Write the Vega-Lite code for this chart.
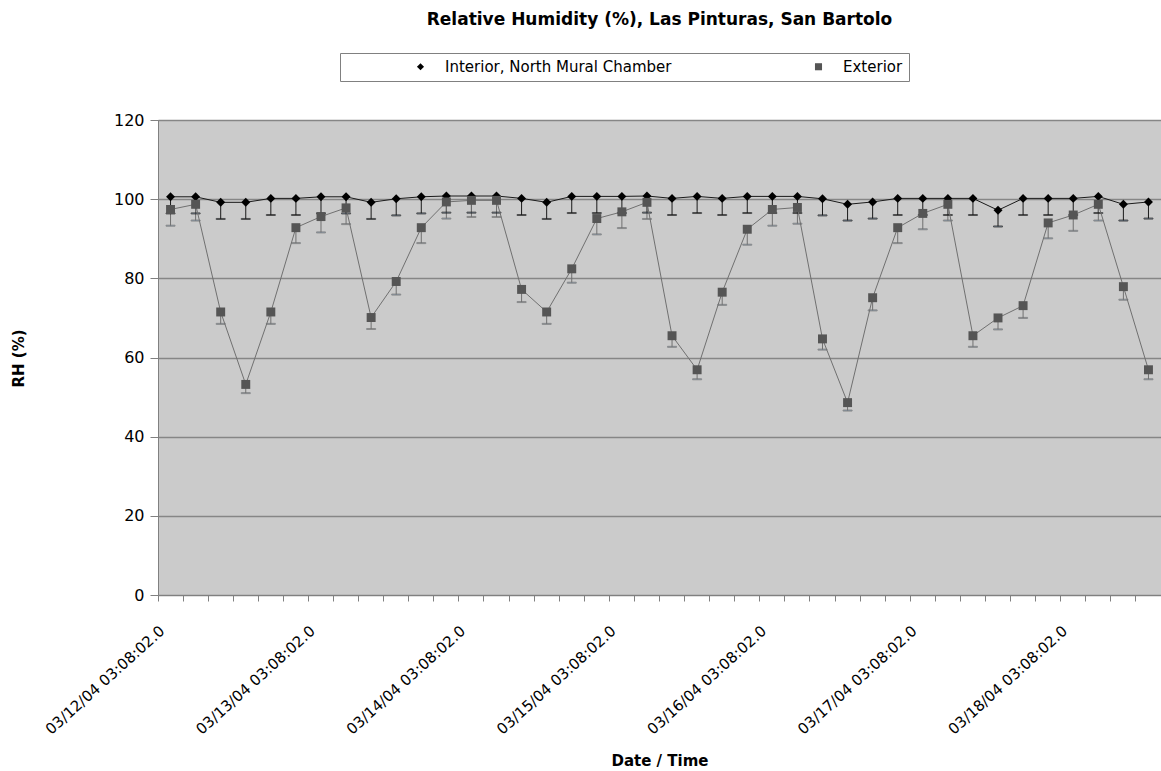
{
  "$schema": "https://vega.github.io/schema/vega-lite/v6.json",
  "width": 1003,
  "height": 475,
  "autosize": "none",
  "padding": {"left": 158, "top": 120, "right": 0, "bottom": 176},
  "background": "white",
  "config": {
    "font": "DejaVu Sans",
    "view": {"fill": "#cbcbcb", "stroke": "#808080", "strokeWidth": 1}
  },
  "title": {
    "text": "Relative Humidity (%), Las Pinturas, San Bartolo",
    "font": "DejaVu Sans",
    "fontSize": 17,
    "fontWeight": "bold",
    "color": "#000000",
    "anchor": "middle",
    "frame": "group",
    "baseline": "alphabetic",
    "offset": 11
  },
  "data": {
    "values": [
      {"t": "03/12/04 03:08:02.0", "s": "Interior, North Mural Chamber", "rh": 100.6, "lo": 96.4},
      {"t": "03/12/04 07:08:02.0", "s": "Interior, North Mural Chamber", "rh": 100.6, "lo": 96.4},
      {"t": "03/12/04 11:08:02.0", "s": "Interior, North Mural Chamber", "rh": 99.2, "lo": 95.0},
      {"t": "03/12/04 15:08:02.0", "s": "Interior, North Mural Chamber", "rh": 99.2, "lo": 95.0},
      {"t": "03/12/04 19:08:02.0", "s": "Interior, North Mural Chamber", "rh": 100.2, "lo": 96.0},
      {"t": "03/12/04 23:08:02.0", "s": "Interior, North Mural Chamber", "rh": 100.2, "lo": 96.0},
      {"t": "03/13/04 03:08:02.0", "s": "Interior, North Mural Chamber", "rh": 100.6, "lo": 96.4},
      {"t": "03/13/04 07:08:02.0", "s": "Interior, North Mural Chamber", "rh": 100.6, "lo": 96.4},
      {"t": "03/13/04 11:08:02.0", "s": "Interior, North Mural Chamber", "rh": 99.2, "lo": 95.0},
      {"t": "03/13/04 15:08:02.0", "s": "Interior, North Mural Chamber", "rh": 100.1, "lo": 95.9},
      {"t": "03/13/04 19:08:02.0", "s": "Interior, North Mural Chamber", "rh": 100.6, "lo": 96.4},
      {"t": "03/13/04 23:08:02.0", "s": "Interior, North Mural Chamber", "rh": 100.8, "lo": 96.6},
      {"t": "03/14/04 03:08:02.0", "s": "Interior, North Mural Chamber", "rh": 100.8, "lo": 96.6},
      {"t": "03/14/04 07:08:02.0", "s": "Interior, North Mural Chamber", "rh": 100.8, "lo": 96.6},
      {"t": "03/14/04 11:08:02.0", "s": "Interior, North Mural Chamber", "rh": 100.2, "lo": 96.0},
      {"t": "03/14/04 15:08:02.0", "s": "Interior, North Mural Chamber", "rh": 99.2, "lo": 95.0},
      {"t": "03/14/04 19:08:02.0", "s": "Interior, North Mural Chamber", "rh": 100.7, "lo": 96.5},
      {"t": "03/14/04 23:08:02.0", "s": "Interior, North Mural Chamber", "rh": 100.7, "lo": 96.5},
      {"t": "03/15/04 03:08:02.0", "s": "Interior, North Mural Chamber", "rh": 100.7, "lo": 96.5},
      {"t": "03/15/04 07:08:02.0", "s": "Interior, North Mural Chamber", "rh": 100.8, "lo": 96.6},
      {"t": "03/15/04 11:08:02.0", "s": "Interior, North Mural Chamber", "rh": 100.2, "lo": 96.0},
      {"t": "03/15/04 15:08:02.0", "s": "Interior, North Mural Chamber", "rh": 100.7, "lo": 96.5},
      {"t": "03/15/04 19:08:02.0", "s": "Interior, North Mural Chamber", "rh": 100.2, "lo": 96.0},
      {"t": "03/15/04 23:08:02.0", "s": "Interior, North Mural Chamber", "rh": 100.7, "lo": 96.5},
      {"t": "03/16/04 03:08:02.0", "s": "Interior, North Mural Chamber", "rh": 100.7, "lo": 96.5},
      {"t": "03/16/04 07:08:02.0", "s": "Interior, North Mural Chamber", "rh": 100.7, "lo": 96.5},
      {"t": "03/16/04 11:08:02.0", "s": "Interior, North Mural Chamber", "rh": 100.1, "lo": 95.9},
      {"t": "03/16/04 15:08:02.0", "s": "Interior, North Mural Chamber", "rh": 98.7, "lo": 94.6},
      {"t": "03/16/04 19:08:02.0", "s": "Interior, North Mural Chamber", "rh": 99.3, "lo": 95.1},
      {"t": "03/16/04 23:08:02.0", "s": "Interior, North Mural Chamber", "rh": 100.2, "lo": 96.0},
      {"t": "03/17/04 03:08:02.0", "s": "Interior, North Mural Chamber", "rh": 100.2, "lo": 96.0},
      {"t": "03/17/04 07:08:02.0", "s": "Interior, North Mural Chamber", "rh": 100.2, "lo": 96.0},
      {"t": "03/17/04 11:08:02.0", "s": "Interior, North Mural Chamber", "rh": 100.2, "lo": 96.0},
      {"t": "03/17/04 15:08:02.0", "s": "Interior, North Mural Chamber", "rh": 97.2, "lo": 93.1},
      {"t": "03/17/04 19:08:02.0", "s": "Interior, North Mural Chamber", "rh": 100.2, "lo": 96.0},
      {"t": "03/17/04 23:08:02.0", "s": "Interior, North Mural Chamber", "rh": 100.2, "lo": 96.0},
      {"t": "03/18/04 03:08:02.0", "s": "Interior, North Mural Chamber", "rh": 100.2, "lo": 96.0},
      {"t": "03/18/04 07:08:02.0", "s": "Interior, North Mural Chamber", "rh": 100.7, "lo": 96.5},
      {"t": "03/18/04 11:08:02.0", "s": "Interior, North Mural Chamber", "rh": 98.7, "lo": 94.6},
      {"t": "03/18/04 15:08:02.0", "s": "Interior, North Mural Chamber", "rh": 99.3, "lo": 95.1},
      {"t": "03/12/04 03:08:02.0", "s": "Exterior", "rh": 97.4, "lo": 93.3},
      {"t": "03/12/04 07:08:02.0", "s": "Exterior", "rh": 98.7, "lo": 94.6},
      {"t": "03/12/04 11:08:02.0", "s": "Exterior", "rh": 71.5, "lo": 68.5},
      {"t": "03/12/04 15:08:02.0", "s": "Exterior", "rh": 53.2, "lo": 51.0},
      {"t": "03/12/04 19:08:02.0", "s": "Exterior", "rh": 71.5, "lo": 68.5},
      {"t": "03/12/04 23:08:02.0", "s": "Exterior", "rh": 92.8, "lo": 88.9},
      {"t": "03/13/04 03:08:02.0", "s": "Exterior", "rh": 95.6, "lo": 91.6},
      {"t": "03/13/04 07:08:02.0", "s": "Exterior", "rh": 97.8, "lo": 93.7},
      {"t": "03/13/04 11:08:02.0", "s": "Exterior", "rh": 70.1, "lo": 67.2},
      {"t": "03/13/04 15:08:02.0", "s": "Exterior", "rh": 79.2, "lo": 75.9},
      {"t": "03/13/04 19:08:02.0", "s": "Exterior", "rh": 92.8, "lo": 88.9},
      {"t": "03/13/04 23:08:02.0", "s": "Exterior", "rh": 99.3, "lo": 95.1},
      {"t": "03/14/04 03:08:02.0", "s": "Exterior", "rh": 99.7, "lo": 95.5},
      {"t": "03/14/04 07:08:02.0", "s": "Exterior", "rh": 99.7, "lo": 95.5},
      {"t": "03/14/04 11:08:02.0", "s": "Exterior", "rh": 77.2, "lo": 74.0},
      {"t": "03/14/04 15:08:02.0", "s": "Exterior", "rh": 71.5, "lo": 68.5},
      {"t": "03/14/04 19:08:02.0", "s": "Exterior", "rh": 82.4, "lo": 78.9},
      {"t": "03/14/04 23:08:02.0", "s": "Exterior", "rh": 95.1, "lo": 91.1},
      {"t": "03/15/04 03:08:02.0", "s": "Exterior", "rh": 96.8, "lo": 92.7},
      {"t": "03/15/04 07:08:02.0", "s": "Exterior", "rh": 99.2, "lo": 95.0},
      {"t": "03/15/04 11:08:02.0", "s": "Exterior", "rh": 65.5, "lo": 62.7},
      {"t": "03/15/04 15:08:02.0", "s": "Exterior", "rh": 56.9, "lo": 54.5},
      {"t": "03/15/04 19:08:02.0", "s": "Exterior", "rh": 76.5, "lo": 73.3},
      {"t": "03/15/04 23:08:02.0", "s": "Exterior", "rh": 92.4, "lo": 88.5},
      {"t": "03/16/04 03:08:02.0", "s": "Exterior", "rh": 97.4, "lo": 93.3},
      {"t": "03/16/04 07:08:02.0", "s": "Exterior", "rh": 97.9, "lo": 93.8},
      {"t": "03/16/04 11:08:02.0", "s": "Exterior", "rh": 64.7, "lo": 62.0},
      {"t": "03/16/04 15:08:02.0", "s": "Exterior", "rh": 48.6, "lo": 46.6},
      {"t": "03/16/04 19:08:02.0", "s": "Exterior", "rh": 75.1, "lo": 71.9},
      {"t": "03/16/04 23:08:02.0", "s": "Exterior", "rh": 92.8, "lo": 88.9},
      {"t": "03/17/04 03:08:02.0", "s": "Exterior", "rh": 96.4, "lo": 92.4},
      {"t": "03/17/04 07:08:02.0", "s": "Exterior", "rh": 98.7, "lo": 94.6},
      {"t": "03/17/04 11:08:02.0", "s": "Exterior", "rh": 65.5, "lo": 62.7},
      {"t": "03/17/04 15:08:02.0", "s": "Exterior", "rh": 70.0, "lo": 67.1},
      {"t": "03/17/04 19:08:02.0", "s": "Exterior", "rh": 73.1, "lo": 70.0},
      {"t": "03/17/04 23:08:02.0", "s": "Exterior", "rh": 94.0, "lo": 90.1},
      {"t": "03/18/04 03:08:02.0", "s": "Exterior", "rh": 96.0, "lo": 92.0},
      {"t": "03/18/04 07:08:02.0", "s": "Exterior", "rh": 98.7, "lo": 94.6},
      {"t": "03/18/04 11:08:02.0", "s": "Exterior", "rh": 77.9, "lo": 74.6},
      {"t": "03/18/04 15:08:02.0", "s": "Exterior", "rh": 56.9, "lo": 54.5}
    ]
  },
  "encoding": {
    "x": {
      "field": "t",
      "type": "ordinal",
      "sort": null,
      "scale": {"type": "band", "paddingInner": 0, "paddingOuter": 0},
      "axis": {
        "title": "Date / Time",
        "titleFont": "DejaVu Sans",
        "titleFontSize": 15,
        "titleFontWeight": "bold",
        "titleColor": "#000000",
        "titleY": 165,
        "titleBaseline": "middle",
        "bandPosition": 0,
        "labelExpr": "substring(datum.label, 9, 14) == '03:08' ? datum.label : ''",
        "labelAngle": -42,
        "labelAlign": "right",
        "labelBaseline": "top",
        "labelPadding": 22,
        "labelOffset": -13,
        "labelFont": "DejaVu Sans",
        "labelFontSize": 15,
        "labelColor": "#000000",
        "labelOverlap": false,
        "labelBound": false,
        "labelFlush": false,
        "labelLimit": 400,
        "tickSize": 6,
        "tickColor": "#808080",
        "domainColor": "#808080",
        "grid": false
      }
    },
    "y": {
      "field": "rh",
      "type": "quantitative",
      "scale": {"domain": [0, 120], "nice": false, "zero": true},
      "axis": {
        "title": "RH (%)",
        "titleFont": "DejaVu Sans",
        "titleFontSize": 15,
        "titleFontWeight": "bold",
        "titleColor": "#000000",
        "titleX": -140,
        "titleY": 238,
        "titleAngle": -90,
        "titleAlign": "center",
        "titleBaseline": "middle",
        "values": [0, 20, 40, 60, 80, 100, 120],
        "labelFont": "DejaVu Sans",
        "labelFontSize": 16,
        "labelColor": "#000000",
        "labelPadding": 6,
        "tickSize": 8,
        "tickColor": "#808080",
        "domainColor": "#808080",
        "grid": true,
        "gridColor": "#868686",
        "gridWidth": 1.5
      }
    }
  },
  "layer": [
    {
      "mark": {"type": "rule", "strokeWidth": 1},
      "encoding": {
        "y2": {"field": "lo"},
        "stroke": {
          "field": "s",
          "type": "nominal",
          "scale": {"range": ["#707070", "#1a1a1a"]},
          "legend": null
        }
      }
    },
    {
      "mark": {"type": "tick", "thickness": 1, "size": 9, "orient": "horizontal"},
      "encoding": {
        "y": {"field": "lo", "type": "quantitative"},
        "stroke": {"field": "s", "type": "nominal", "legend": null}
      }
    },
    {
      "mark": {"type": "line", "strokeWidth": 1},
      "encoding": {
        "stroke": {"field": "s", "type": "nominal", "legend": null}
      }
    },
    {
      "mark": {"type": "point", "filled": true, "opacity": 1, "strokeWidth": 0, "size": 80},
      "encoding": {
        "shape": {
          "field": "s",
          "type": "nominal",
          "scale": {"domain": ["Interior, North Mural Chamber", "Exterior"], "range": ["diamond", "square"]}
        },
        "fill": {
          "field": "s",
          "type": "nominal",
          "scale": {"domain": ["Interior, North Mural Chamber", "Exterior"], "range": ["#000000", "#555555"]},
          "legend": {
            "orient": "none",
            "legendX": 182,
            "legendY": -67,
            "direction": "horizontal",
            "columns": 2,
            "title": "\u00a0",
            "titleOrient": "left",
            "titlePadding": 67,
            "titleFontSize": 15,
            "labelFont": "DejaVu Sans",
            "labelFontSize": 15,
            "labelColor": "#000000",
            "labelLimit": 400,
            "labelOffset": 17,
            "labelExpr": "datum.label == 'Exterior' ? 'Exterior\u00a0\u00a0\u00a0\u00a0\u00a0\u00a0\u00a0\u00a0\u00a0\u00a0\u00a0' : datum.label",
            "strokeColor": "#808080",
            "fillColor": "#ffffff",
            "padding": 6,
            "columnPadding": 139,
            "symbolSize": 50,
            "symbolStrokeWidth": 0,
            "symbolOpacity": 1
          }
        }
      }
    }
  ]
}
